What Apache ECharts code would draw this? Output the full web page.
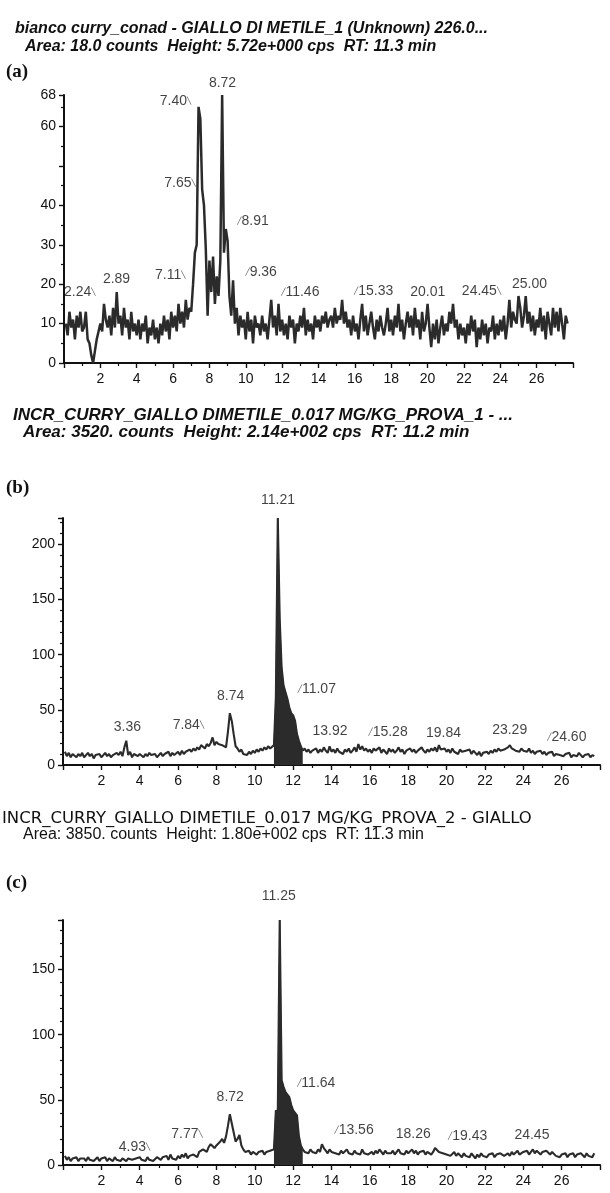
<!DOCTYPE html>
<html>
<head>
<meta charset="utf-8">
<script src="https://cdn.jsdelivr.net/npm/echarts@6/dist/echarts.min.js"></script>
<style>
html, body { margin: 0; padding: 0; background: #fff; }
#chart { width: 610px; height: 1193px; }
</style>
</head>
<body>
<div id="chart"></div>
<script>
// retention time sampling of the three traces (min)
const rtStart = 0.1;
const rtStep = 0.1;

// (a) bianco curry_conad, intensity (cps), one row per minute
const traceA = [
  10, 7, 13, 9, 11, 6, 12, 9, 13, 8,
  9, 13, 6, 5, 2, 0, 3, 6, 8, 10,
  8, 15, 11, 9, 12, 7, 14, 9, 18, 10,
  12, 7, 14, 9, 11, 6, 13, 8, 10, 7,
  11, 6, 10, 8, 12, 5, 9, 7, 11, 6,
  9, 5, 10, 7, 12, 8, 11, 6, 13, 9,
  12, 8, 15, 10, 13, 9, 16, 11, 14, 13,
  20, 28, 30, 65, 62, 44, 40, 29, 12, 26,
  18, 27, 15, 22, 17, 26, 68, 28, 34, 31,
  17, 12, 21, 10, 14, 7, 12, 9, 11, 6,
  13, 8, 11, 5, 12, 9, 10, 7, 12, 8,
  10, 6, 11, 16, 9, 12, 7, 15, 8, 11,
  7, 10, 6, 12, 9, 11, 5, 10, 8, 12,
  9, 14, 7, 11, 8, 10, 6, 12, 9, 11,
  8, 12, 10, 13, 9, 11, 12, 9, 14, 10,
  12, 11, 16, 10, 13, 9, 11, 7, 12, 8,
  10, 6, 11, 15, 8, 12, 7, 10, 13, 9,
  6, 11, 8, 12, 9, 7, 10, 14, 8, 11,
  7, 12, 9, 15, 8, 11, 6, 10, 13, 9,
  12, 7, 14, 9, 11, 6, 13, 8, 10, 15,
  9, 4, 10, 6, 11, 5, 9, 12, 7, 10,
  8, 13, 10, 15, 9, 11, 6, 10, 7, 9,
  5, 10, 7, 12, 8, 11, 4, 9, 6, 11,
  7, 10, 5, 9, 8, 12, 6, 10, 7, 11,
  8, 12, 6, 10, 16, 9, 13, 11, 10, 17,
  14, 9, 12, 17, 10, 13, 8, 12, 7, 11,
  9, 14, 8, 12, 6, 13, 10, 7, 14, 9,
  13, 8, 14, 10, 6, 12, 10
];

// (b) INCR_CURRY ... PROVA_1
const traceB = [
  12, 8, 11, 7, 10, 9, 7, 10, 8, 11,
  7, 9, 11, 8, 10, 6, 9, 8, 10, 7,
  9, 11, 8, 10, 7, 9, 8, 11, 9, 12,
  8, 16, 22, 9, 12, 7, 10, 9, 8, 10,
  9, 7, 10, 8, 11, 9, 8, 10, 7, 9,
  11, 8, 10, 9, 12, 8, 11, 9, 10, 12,
  9, 13, 10, 12, 11, 14, 12, 15, 13, 16,
  14, 18, 17, 15, 19, 17, 20, 25, 18, 21,
  19, 20, 18, 17, 16, 30, 47, 40, 28, 17,
  15, 12, 14, 10, 11, 9, 12, 10, 13, 11,
  14, 12, 15, 13, 16, 14, 17, 15, 16, 18,
  62, 224, 132, 88, 72, 66, 60, 52, 47, 45,
  40, 28, 22, 17, 13, 15, 12, 14, 11, 13,
  12, 15, 11, 14, 12, 16, 13, 11, 17, 12,
  14, 11, 15, 12, 13, 10, 14, 12, 15, 11,
  13, 16, 12, 19, 14, 17, 13, 15, 12, 14,
  11, 15, 13, 12, 16, 11, 14, 13, 10, 15,
  12, 14, 11, 13, 16, 12, 14, 10, 13, 12,
  15, 12, 14, 11, 13, 12, 16, 13, 11, 14,
  12, 15, 13, 16, 12, 18, 14, 13, 15, 12,
  14, 11, 15, 12, 13, 10, 14, 12, 11, 13,
  12, 14, 10, 13, 11, 9, 12, 8, 11, 10,
  12, 10, 13, 11, 14, 12, 15, 13, 12, 14,
  13, 16, 18, 15, 14, 13, 14, 12, 15, 13,
  14, 12, 15, 11, 13, 10, 12, 11, 13, 10,
  12, 9, 11, 10, 12, 8, 10, 11, 9, 10,
  8, 10, 9, 11, 7, 9, 10, 8, 11, 9,
  7, 9, 8, 10, 7, 9, 8
];

// (c) INCR_CURRY ... PROVA_2
const traceC = [
  7, 4, 6, 3, 5, 4, 6, 3, 5, 4,
  5, 3, 6, 4, 5, 3, 4, 6, 3, 5,
  4, 6, 3, 5, 4, 3, 6, 4, 5, 3,
  5, 4, 3, 5, 6, 4, 3, 5, 4, 6,
  4, 5, 3, 6, 4, 5, 3, 4, 6, 5,
  4, 6, 5, 7, 4, 8, 5, 6, 4, 7,
  5, 8, 6, 9, 5, 7, 6, 8, 7, 6,
  10, 9, 12, 11, 10, 14, 16, 15, 13, 15,
  14, 18, 20, 17, 22, 30, 39, 38, 25, 18,
  20, 23, 15, 12, 10, 9, 11, 8, 10, 9,
  8, 10, 9, 11, 8, 10, 9, 11, 10, 12,
  42, 40, 188, 65, 60, 56, 54, 52, 46, 42,
  41, 38, 22, 15, 12, 10, 11, 9, 12, 10,
  11, 9, 12, 10, 16, 13, 11, 9, 12, 10,
  11, 9, 10, 8, 11, 9, 10, 12, 9, 10,
  8, 11, 9, 10, 8, 12, 9, 10, 8, 9,
  10, 8, 11, 9, 12, 10, 8, 11, 9, 10,
  9, 11, 8, 10, 12, 9, 10, 8, 11, 9,
  10, 12, 9, 11, 8, 10, 9, 11, 8, 10,
  9, 8, 10, 13, 12, 10, 11, 9, 10, 8,
  9, 7, 8, 10, 7, 9, 8, 6, 9, 7,
  8, 6, 9, 7, 5, 8, 6, 9, 7, 8,
  6, 8, 7, 9, 6, 8, 7, 9, 8, 7,
  8, 9, 7, 10, 8, 9, 11, 8, 9, 10,
  9, 11, 8, 10, 12, 9, 11, 10, 8, 10,
  9, 11, 10, 8, 10, 9, 7, 8, 6, 8,
  7, 9, 6, 8, 7, 9, 6, 8, 7, 9,
  8, 6, 9, 7, 8, 6, 9
];

// integrated peak window (shaded) in (b) and (c)
const areaWindow = [11.0, 12.5];

// labelled peaks
const peakRtA = [2.24, 2.89, 7.11, 7.40, 7.65, 8.72, 8.91, 9.36, 11.46, 15.33, 20.01, 24.45, 25.00];
const peakHA = [15, 18, 20, 65, 44, 68, 34, 21, 16, 16, 15, 16, 17];
const peakTextA = ['2.24', '2.89', '7.11', '7.40', '7.65', '8.72', '8.91', '9.36', '11.46', '15.33', '20.01', '24.45', '25.00'];

const peakRtB = [3.36, 7.84, 8.74, 11.21, 11.67, 13.92, 15.28, 19.84, 23.29, 24.60];
const peakHB = [22, 25, 47, 224, 60, 17, 16, 15, 18, 12];
const peakTextB = ['3.36', '7.84', '8.74', '11.21', '11.07', '13.92', '15.28', '19.84', '23.29', '24.60'];

const peakRtC = [4.93, 7.77, 8.72, 11.25, 11.64, 13.56, 18.26, 19.43, 24.45];
const peakHC = [6, 16, 39, 188, 56, 16, 12, 13, 12];
const peakTextC = ['4.93', '7.77', '8.72', '11.25', '11.64', '13.56', '18.26', '19.43', '24.45'];

// axis settings
const yMaxA = 68, yMaxB = 224, yMaxC = 188;
const xMax = 28;

// label placement (style only): [dx, dy] from the peak, leader side
const offA = [[-25, -12], [0, -13], [-23, -9], [-23, -6], [-23, -6], [0, -12], [27, -8], [27, -8], [28, -8], [31, -9], [0, -12], [-27, -9], [11, -12]];
const leadA = ['r', '', 'r', 'r', 'r', '', 'l', 'l', 'l', 'l', '', 'r', ''];
const offB = [[0, -14], [-25, -12], [0, -17], [0, -18], [30, -10], [0, -15], [32, -15], [0, -15], [0, -15], [32, -15]];
const leadB = ['', 'r', '', '', 'l', '', 'l', '', '', 'l'];
const offC = [[-23, -10], [-25, -10], [0, -17], [0, -24], [30, -9], [31, -14], [0, -15], [32, -12], [0, -14]];
const leadC = ['r', 'r', '', '', 'l', 'l', '', 'l', ''];

const chart = echarts.init(document.getElementById('chart'), null, { renderer: 'canvas' });

const toPoints = (vals) => vals.map((v, i) => [+(rtStart + i * rtStep).toFixed(2), v]);
const inWindow = (pts) => pts.filter(p => p[0] >= areaWindow[0] - 1e-6 && p[0] <= areaWindow[1] + 1e-6);

const INK = '#111';
const SANS = '"Liberation Sans", Arial, sans-serif';

const headA = { fontFamily: SANS, fontStyle: 'italic', fontWeight: 'bold', fontSize: 16, color: '#111' };
const headB = { fontFamily: SANS, fontStyle: 'italic', fontWeight: 'bold', fontSize: 17, color: '#111' };
const headC1 = { fontFamily: '"DejaVu Sans", sans-serif', fontWeight: 'normal', fontSize: 16.5, color: '#111' };
const headC2 = { fontFamily: SANS, fontWeight: 'normal', fontSize: 16, color: '#111' };
const panelTag = { fontFamily: '"Liberation Serif", "Times New Roman", serif', fontWeight: 'bold', fontSize: 19, color: '#111' };

const peakSeries = (idx, rts, hs, texts, offs, leads) => ({
  type: 'scatter',
  xAxisIndex: idx,
  yAxisIndex: idx,
  symbolSize: 1,
  itemStyle: { color: 'rgba(0,0,0,0)' },
  silent: true,
  z: 5,
  data: rts.map((rt, i) => ({
    value: [rt, hs[i]],
    label: {
      offset: offs[i],
      formatter: leads[i] === 'r' ? '{t|' + texts[i] + '}{d|\u2572}'
        : leads[i] === 'l' ? '{d|\u2571}{t|' + texts[i] + '}'
        : '{t|' + texts[i] + '}'
    }
  })),
  label: {
    show: true,
    position: 'inside',
    rich: {
      t: { fontFamily: SANS, fontSize: 14, color: INK },
      d: { fontFamily: '"DejaVu Sans"', fontSize: 7, color: INK }
    }
  }
});

const xAxisFor = (idx) => ({
  type: 'value',
  gridIndex: idx,
  min: 0,
  max: xMax,
  interval: 2,
  axisLine: { show: true, onZero: false, lineStyle: { color: '#111', width: 2 } },
  axisTick: { show: true, inside: false, length: 5, lineStyle: { color: '#111', width: 1.4 } },
  minorTick: { show: true, splitNumber: 2, length: 3, lineStyle: { color: '#111', width: 1.2 } },
  axisLabel: { showMinLabel: false, showMaxLabel: false, margin: 9, fontFamily: SANS, fontSize: 14, color: INK },
  splitLine: { show: false }
});

const yAxisFor = (idx, max, interval, minorSplit, showMax, hide) => ({
  type: 'value',
  gridIndex: idx,
  min: 0,
  max: max,
  interval: interval,
  axisLine: { show: true, lineStyle: { color: '#111', width: 2 } },
  axisTick: { show: true, inside: false, length: 5, lineStyle: { color: '#111', width: 1.4 } },
  minorTick: { show: true, splitNumber: minorSplit, length: 3, lineStyle: { color: '#111', width: 1.2 } },
  axisLabel: {
    showMaxLabel: showMax,
    margin: 8,
    fontFamily: SANS,
    fontSize: 14,
    color: INK,
    formatter: (v) => (hide.indexOf(v) >= 0 ? '' : String(v))
  },
  splitLine: { show: false }
});

const ptsA = toPoints(traceA);
const ptsB = toPoints(traceB);
const ptsC = toPoints(traceC);

const traceSeries = (idx, pts, width) => ({
  type: 'line',
  xAxisIndex: idx,
  yAxisIndex: idx,
  data: pts,
  symbol: 'none',
  lineStyle: { color: '#2b2b2b', width: width },
  z: 3
});

const areaSeries = (idx, pts) => ({
  type: 'line',
  xAxisIndex: idx,
  yAxisIndex: idx,
  data: inWindow(pts),
  symbol: 'none',
  lineStyle: { color: '#2b2b2b', width: 1 },
  areaStyle: { color: '#2b2b2b', opacity: 1 },
  z: 2
});

const option = {
  animation: false,
  backgroundColor: '#fff',
  title: [
    { text: 'bianco curry_conad - GIALLO DI METILE_1 (Unknown) 226.0...', left: 15, top: 21, textStyle: headA, padding: 0 },
    { text: 'Area: 18.0 counts  Height: 5.72e+000 cps  RT: 11.3 min', left: 25, top: 39, textStyle: headA, padding: 0 },
    { text: '(a)', left: 6, top: 63, textStyle: panelTag, padding: 0 },
    { text: 'INCR_CURRY_GIALLO DIMETILE_0.017 MG/KG_PROVA_1 - ...', left: 13, top: 407, textStyle: headB, padding: 0 },
    { text: 'Area: 3520. counts  Height: 2.14e+002 cps  RT: 11.2 min', left: 23, top: 424, textStyle: headB, padding: 0 },
    { text: '(b)', left: 6, top: 479, textStyle: panelTag, padding: 0 },
    { text: 'INCR_CURRY_GIALLO DIMETILE_0.017 MG/KG_PROVA_2 - GIALLO', left: 2, top: 810, textStyle: headC1, padding: 0 },
    { text: 'Area: 3850. counts  Height: 1.80e+002 cps  RT: 11.3 min', left: 23, top: 827, textStyle: headC2, padding: 0 },
    { text: '(c)', left: 6, top: 874, textStyle: panelTag, padding: 0 }
  ],
  grid: [
    { left: 64, top: 95, width: 509, height: 268 },
    { left: 63, top: 518, width: 537, height: 247 },
    { left: 63, top: 920, width: 537, height: 245 }
  ],
  xAxis: [xAxisFor(0), xAxisFor(1), xAxisFor(2)],
  yAxis: [
    yAxisFor(0, yMaxA, 10, 2, true, [50]),
    yAxisFor(1, yMaxB, 50, 5, false, []),
    yAxisFor(2, yMaxC, 50, 5, false, [])
  ],
  series: [
    traceSeries(0, ptsA, 2.5),
    traceSeries(1, ptsB, 2.1),
    areaSeries(1, ptsB),
    traceSeries(2, ptsC, 2.1),
    areaSeries(2, ptsC),
    peakSeries(0, peakRtA, peakHA, peakTextA, offA, leadA),
    peakSeries(1, peakRtB, peakHB, peakTextB, offB, leadB),
    peakSeries(2, peakRtC, peakHC, peakTextC, offC, leadC)
  ]
};

chart.setOption(option);
</script>
</body>
</html>
